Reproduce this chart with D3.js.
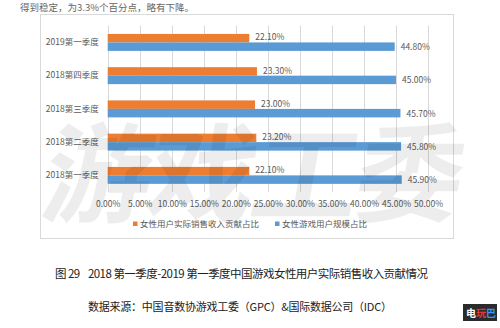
<!DOCTYPE html>
<html><head><meta charset="utf-8">
<script src="https://cdn.jsdelivr.net/npm/d3@7"></script>
<style>
html,body{margin:0;padding:0;background:#fff;}
svg{display:block;font-family:"Noto Sans CJK SC","Noto Sans",sans-serif;}
</style></head>
<body><svg id="c" width="500" height="328"></svg>
<script>
const categories = ["2019第一季度","2018第四季度","2018第三季度","2018第二季度","2018第一季度"];
const revenueShare = [22.1, 23.3, 23.0, 23.2, 22.1];   // 女性用户实际销售收入贡献占比
const userShare = [44.8, 45.0, 45.7, 45.8, 45.9];      // 女性游戏用户规模占比
const seriesNames = ["女性用户实际销售收入贡献占比","女性游戏用户规模占比"];
const xTicks = [0,5,10,15,20,25,30,35,40,45,50];

const orange = "#ED7D31", blue = "#5B9BD5", textCol = "#595959", grid = "#d9d9d9";
const svg = d3.select("#c");

// partial text line at top
svg.append("text").attr("x",20).attr("y",10.5).attr("font-size",9.5).attr("fill","#666")
  .text("得到稳定，为3.3%个百分点，略有下降。");

// frame
svg.append("rect").attr("x",40.5).attr("y",14.5).attr("width",413).attr("height",224)
  .attr("fill","#fff").attr("stroke",grid);

const x = d3.scaleLinear().domain([0,50]).range([107.7,428]);
const y = d3.scaleBand().domain(categories).range([25.8,192]).paddingInner(0.49).paddingOuter(0.245);
const sub = d3.scaleBand().domain([0,1]).range([0,y.bandwidth()]);

// gridlines
svg.append("g").selectAll("line").data(xTicks).join("line")
  .attr("x1",d=>Math.round(x(d))+0.5).attr("x2",d=>Math.round(x(d))+0.5)
  .attr("y1",25.8).attr("y2",192).attr("stroke",grid).attr("stroke-width",1);

// tick labels via axis
const ax = svg.append("g").attr("transform","translate(0,192)")
  .call(d3.axisBottom(x).tickValues(xTicks).tickSize(0).tickPadding(9).tickFormat(d=>d.toFixed(2)+"%"));
ax.select(".domain").remove();
ax.selectAll("text").attr("font-size",8.5).attr("fill",textCol).attr("font-family","'Noto Sans CJK SC',sans-serif");

// category labels
const ay = svg.append("g").attr("transform","translate(107.7,0)")
  .call(d3.axisLeft(y).tickSize(0).tickPadding(9));
ay.select(".domain").remove();
ay.selectAll("text").attr("font-size",8.5).attr("fill",textCol).attr("font-family","'Noto Sans CJK SC',sans-serif");

const rows = categories.map((c,i)=>({c, vals:[revenueShare[i], userShare[i]]}));
const g = svg.append("g");
rows.forEach(r=>{
  r.vals.forEach((v,j)=>{
    g.append("rect").attr("x",x(0)).attr("y",y(r.c)+sub(j))
      .attr("width",x(v)-x(0)).attr("height",sub.bandwidth())
      .attr("fill", j===0?orange:blue);
    g.append("text").attr("x",x(v)+6).attr("y",y(r.c)+sub(j)+sub.bandwidth()/2+(j===0?2.2:3.5))
      .attr("font-size",8.5).attr("fill",textCol).text(v.toFixed(2)+"%");
  });
});

// legend
const leg = [{n:seriesNames[0],c:orange,x:133},{n:seriesNames[1],c:blue,x:275}];
leg.forEach(l=>{
  svg.append("rect").attr("x",l.x).attr("y",221.5).attr("width",4.5).attr("height",4.5).attr("fill",l.c);
  svg.append("text").attr("x",l.x+7).attr("y",227).attr("font-size",8.5).attr("fill",textCol).text(l.n);
});

// watermark
svg.append("text").attr("x",40).attr("y",214)
  .attr("font-size",108).attr("font-weight",700).attr("fill","rgba(0,0,0,0.07)")
  .attr("textLength",420).attr("lengthAdjust","spacing")
  .attr("transform","skewX(-10) translate(36,0)")
  .text("游戏工委");

// captions
svg.append("text").attr("x",55).attr("y",278).attr("font-size",11.5).attr("fill","#222")
  .style("white-space","pre").attr("xml:space","preserve")
  .attr("textLength",373).text("图 29    2018 第一季度-2019 第一季度中国游戏女性用户实际销售收入贡献情况");
svg.append("text").attr("x",88).attr("y",311).attr("font-size",11).attr("fill","#222")
  .attr("textLength",304).text("数据来源：中国音数协游戏工委（GPC）&国际数据公司（IDC）");

// logo
svg.append("rect").attr("x",463).attr("y",304).attr("width",34).attr("height",17).attr("fill","#2b2b2b");
const logo = svg.append("text").attr("x",466).attr("y",317).attr("font-size",10).attr("font-weight",700);
[["电","#fff"],["玩","#e33"],["巴","#39f"]].forEach(([t,c])=>logo.append("tspan").attr("fill",c).text(t));
</script></body></html>
